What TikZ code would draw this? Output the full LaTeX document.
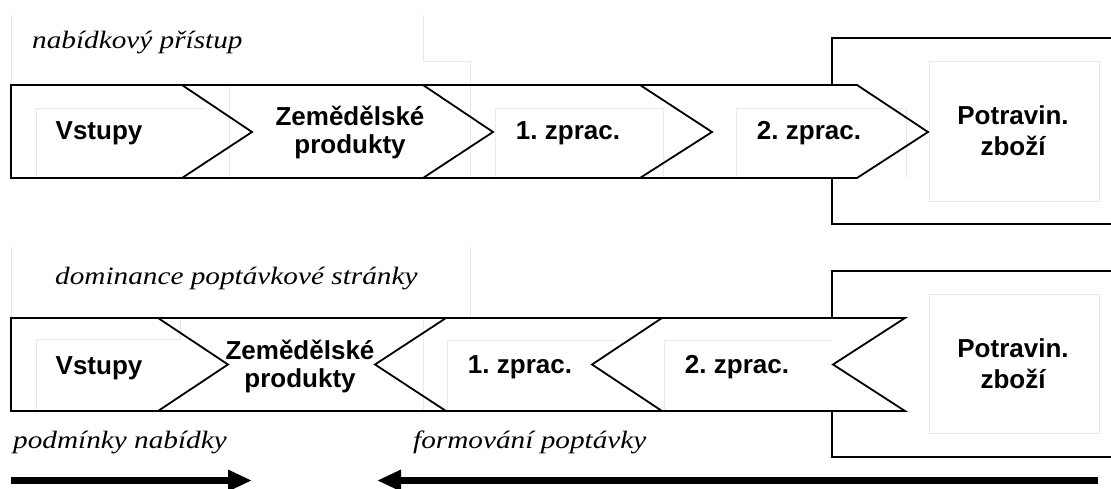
\documentclass[tikz,border=0pt]{standalone}
\usepackage{fontspec}
\setmainfont{Liberation Sans}
\newfontfamily\notefont[FakeStretch=1.17]{Liberation Serif}
\usetikzlibrary{arrows.meta}
\frenchspacing

\begin{document}
\begin{tikzpicture}[x=1pt,y=-1pt,
  outline/.style={line width=1.8pt, line join=miter},
  frame/.style={draw=black!9, line width=0.9pt},
  stage/.style={font=\bfseries\fontsize{26}{28}\selectfont, inner sep=0pt, align=center},
  goods/.style={font=\bfseries\fontsize{26}{31}\selectfont, inner sep=0pt, align=center},
  note/.style={font=\notefont\itshape\fontsize{25}{28}\selectfont, inner sep=0pt, anchor=base west},
  flow/.style={line width=7pt, -{Triangle[length=24pt,width=20pt]}}
]
\useasboundingbox (0,0) rectangle (1111,489);

% ---------- supply-driven chain (top) ----------
\draw[frame] (11,15) -- (11,85);
\draw[frame] (423,15) -- (423,61) -- (470,61);
\draw[outline] (1116,38) -- (832,38) -- (832,224) -- (1116,224);
\fill[white] (11,85) -- (857,85) -- (928,132) -- (857,178) -- (11,178) -- cycle;
\draw[frame] (36,178) -- (36,108) -- (205,108);
\draw[frame] (229,85) -- (229,178);
\draw[frame] (470,61) -- (470,178);
\draw[frame] (495,178) -- (495,108) -- (663,108) -- (663,178);
\draw[frame] (736,178) -- (736,108) -- (906,108) -- (906,178);
\draw[frame] (929,61) rectangle (1099,201);
\draw[outline] (11,85) -- (857,85) -- (928,132) -- (857,178) -- (11,178) -- cycle;
\draw[outline] (182,85) -- (252,132) -- (182,178);
\draw[outline] (423,85) -- (493,132) -- (423,178);
\draw[outline] (640,85) -- (712,132) -- (640,178);

\node[note] (t1) at (32,49) {nabídkový přístup};
\node[stage] (a1) at (99,133) {Vstupy};
\node[stage] (a2) at (350,132) {Zemědělské\\produkty};
\node[stage] (a3) at (568,133) {1. zprac.};
\node[stage] (a4) at (809,133) {2. zprac.};
\node[goods] (a5) at (1013,131) {Potravin.\\zboží};

% ---------- demand-driven chain (bottom) ----------
\draw[frame] (11,247) -- (11,318);
\draw[frame] (470,247) -- (470,318);
\draw[outline] (1116,271) -- (832,271) -- (832,457) -- (1116,457);
\fill[white] (11,318) -- (905,318) -- (833,364.5) -- (905,411) -- (11,411) -- cycle;
\draw[frame] (36,411) -- (36,339) -- (180,339) -- (180,318);
\draw[frame] (423,318) -- (423,411);
\draw[frame] (447,411) -- (447,340) -- (615,340);
\draw[frame] (664,411) -- (664,340) -- (832,340);
\draw[frame] (929,294) rectangle (1099,433);
\draw[outline] (11,318) -- (905,318) -- (833,364.5) -- (905,411) -- (11,411) -- cycle;
\draw[outline] (158,318) -- (228,364.5) -- (158,411);
\draw[outline] (446,318) -- (375,364.5) -- (446,411);
\draw[outline] (662,318) -- (592,364.5) -- (662,411);

\node[note] (t2) at (55,284) {dominance poptávkové stránky};
\node[stage] (b1) at (99,368) {Vstupy};
\node[stage] (b2) at (300,366) {Zemědělské\\produkty};
\node[stage] (b3) at (520,367) {1. zprac.};
\node[stage] (b4) at (737,367) {2. zprac.};
\node[goods] (b5) at (1013,364) {Potravin.\\zboží};

% ---------- direction of influence ----------
\node[note] (t3) at (13,448) {podmínky nabídky};
\node[note] (t4) at (413,448) {formování poptávky};
\coordinate (s1) at (11,480.5);
\coordinate (e1) at (252,480.5);
\coordinate (s2) at (1098,480.5);
\coordinate (e2) at (377,480.5);
\draw[flow] (s1) -- (e1);
\draw[flow] (s2) -- (e2);
\end{tikzpicture}
\end{document}
